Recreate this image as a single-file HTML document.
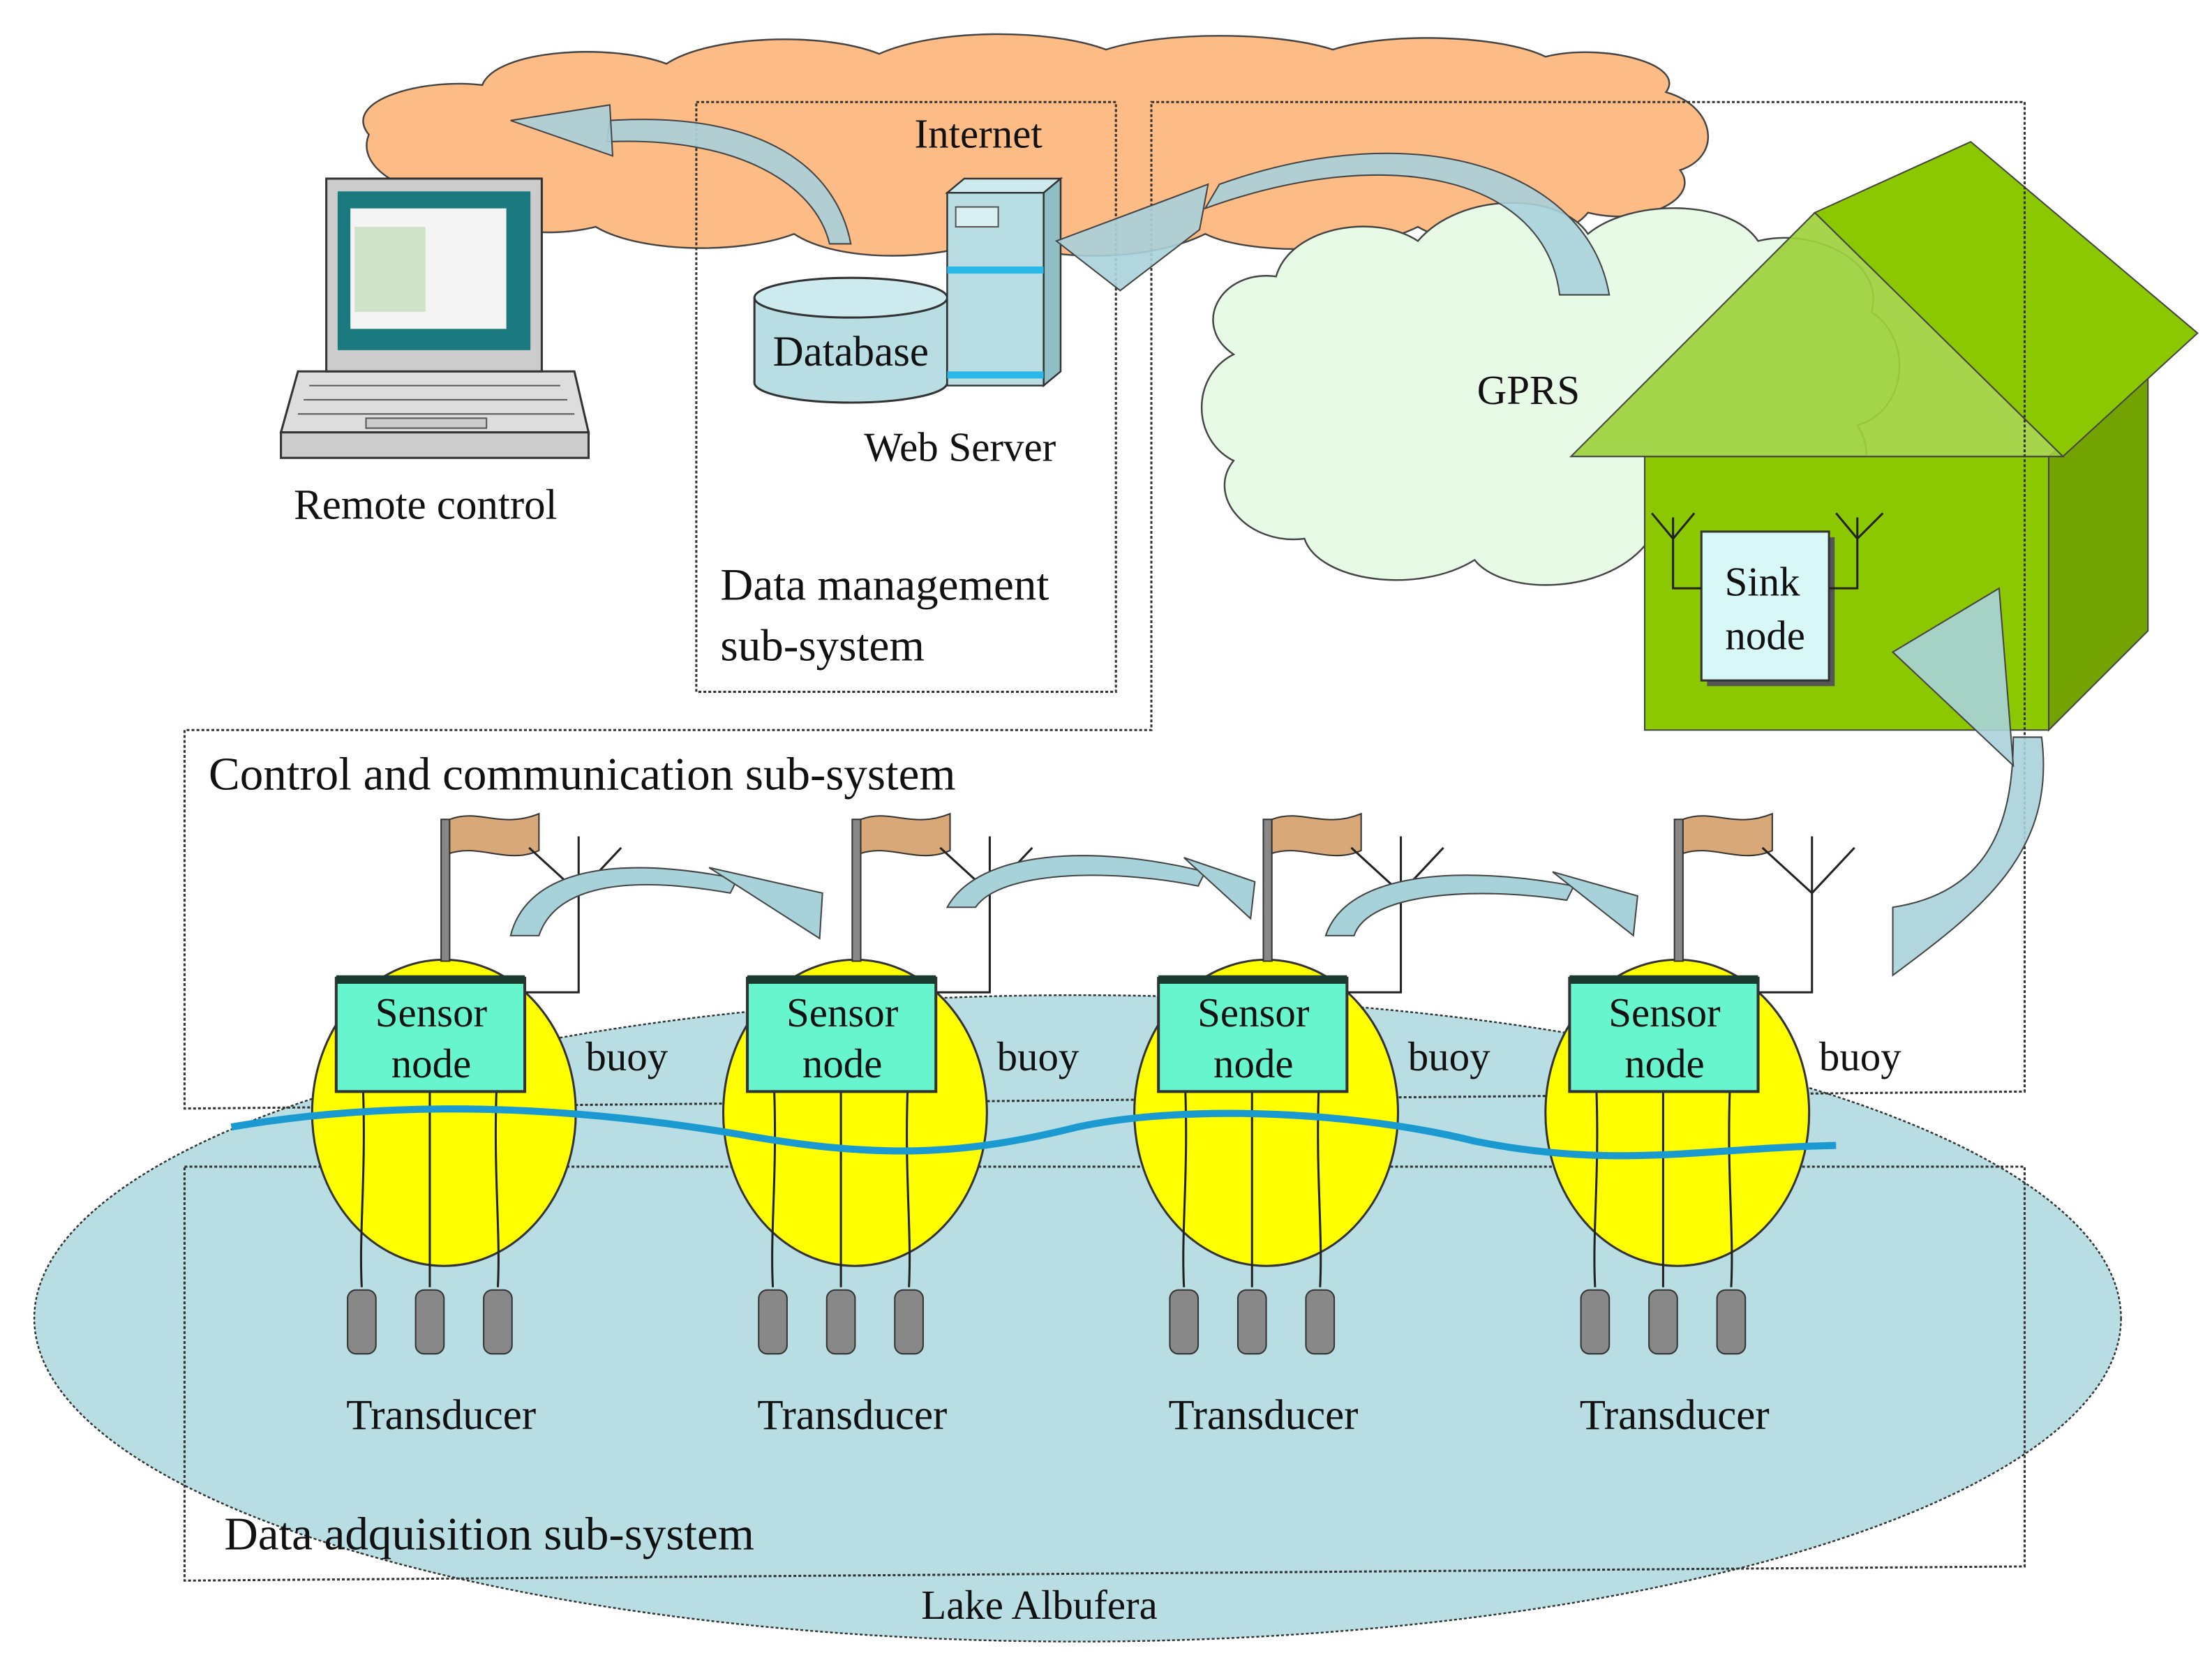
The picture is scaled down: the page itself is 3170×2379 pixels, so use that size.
<!DOCTYPE html>
<html><head><meta charset="utf-8"><style>
html,body{margin:0;padding:0;background:#fff;}
svg{display:block;}
text{font-family:"Liberation Serif",serif;fill:#111;}
</style></head><body>
<svg width="3170" height="2379" viewBox="0 0 1560 1171" xmlns="http://www.w3.org/2000/svg">
<ellipse cx="760" cy="930" rx="736" ry="228" fill="#B8DEE3" stroke="#333" stroke-width="1.2" stroke-dasharray="2,1.5"/>
<text x="733" y="1142" font-size="29" text-anchor="middle">Lake Albufera</text>

<g fill="#FDBB86" stroke="#444" stroke-width="1.2">
<path d="M260,95 C240,70 300,55 340,60 C350,35 430,30 470,45 C500,25 580,22 620,38 C660,20 740,20 780,35 C820,22 900,22 940,35 C980,22 1060,25 1090,40 C1130,30 1190,45 1175,65 C1210,75 1215,110 1185,120 C1200,140 1160,160 1120,150 C1100,175 1030,178 1000,160 C960,180 880,180 850,165 C810,185 740,185 700,168 C660,185 590,185 560,165 C520,180 450,178 420,160 C380,170 330,160 330,140 C290,140 250,120 260,95 Z"/>
</g>
<text x="690" y="104" font-size="29" text-anchor="middle">Internet</text>

<path d="M870,250 C840,230 860,190 900,195 C910,160 970,150 1000,170 C1030,135 1100,135 1120,165 C1150,140 1220,140 1240,170 C1280,160 1330,185 1320,220 C1350,240 1345,290 1310,300 C1330,330 1300,370 1260,360 C1250,400 1190,410 1160,385 C1130,420 1060,420 1040,395 C1000,420 930,410 920,380 C880,385 850,350 870,325 C840,310 840,265 870,250 Z" fill="#E6FAE6" stroke="#444" stroke-width="1.2"/>

<g stroke="#444" stroke-width="1">
<polygon points="1445,322 1515,262 1515,445 1445,515" fill="#73A300"/>
<rect x="1160" y="322" width="285" height="193" fill="#8BC800"/>
<polygon points="1280,150 1390,100 1550,235 1455,322" fill="#8BC800"/>
<polygon points="1108,322 1280,150 1455,322" fill="#9ED03C" fill-opacity="0.92"/>
</g>
<text x="1078" y="285" font-size="29" text-anchor="middle">GPRS</text>
<rect x="1204" y="379" width="90" height="105" fill="#555"/>
<rect x="1200" y="375" width="90" height="105" fill="#D8F8F8" stroke="#333" stroke-width="1.5"/>
<text x="1243" y="420" font-size="29" text-anchor="middle">Sink</text>
<text x="1245" y="458" font-size="29" text-anchor="middle">node</text>
<g stroke="#222" stroke-width="1.5" fill="none">
<path d="M1200,415 H1180 V365 M1180,380 L1165,362 M1180,380 L1195,362"/>
<path d="M1290,415 H1310 V365 M1310,380 L1295,362 M1310,380 L1328,362"/>
</g>

<g fill="none" stroke="#333" stroke-width="1.5" stroke-dasharray="2,1.5">
<rect x="491" y="72" width="296" height="416"/>
<path d="M812,72 H1428 V770 L130,782 V515 H812 Z"/>
<path d="M130,823 L1428,823 L1428,1105 L130,1115 Z"/>
</g>
<text x="508" y="423" font-size="32">Data management</text>
<text x="508" y="466" font-size="32">sub-system</text>
<text x="147" y="557" font-size="33">Control and communication sub-system</text>
<text x="158" y="1093" font-size="33">Data adquisition sub-system</text>

<polygon points="198,305 415,305 405,262 210,262" fill="#ddd" stroke="#333" stroke-width="1.5"/>
<rect x="198" y="305" width="217" height="18" fill="#ccc" stroke="#333" stroke-width="1.5"/>
<g stroke="#555" stroke-width="1"><line x1="218" y1="272" x2="395" y2="272"/><line x1="214" y1="282" x2="400" y2="282"/><line x1="210" y1="292" x2="405" y2="292"/></g>
<rect x="258" y="295" width="85" height="7" fill="#ccc" stroke="#555"/>
<rect x="230" y="126" width="152" height="136" fill="#ccc" stroke="#333" stroke-width="1.5"/>
<rect x="238" y="135" width="136" height="112" fill="#1A7A80"/>
<rect x="247" y="147" width="110" height="85" fill="#F4F4F4"/>
<rect x="250" y="160" width="50" height="60" fill="#CFE3C8"/>
<text x="300" y="366" font-size="30" text-anchor="middle">Remote control</text>

<path d="M532,210 V270 A68,14 0 0 0 668,270 V210" fill="#B8DEE3" stroke="#333" stroke-width="1.5"/>
<ellipse cx="600" cy="210" rx="68" ry="14" fill="#CDEBEE" stroke="#333" stroke-width="1.5"/>
<text x="600" y="258" font-size="30" text-anchor="middle">Database</text>
<polygon points="668,136 680,126 748,126 736,136" fill="#CDEBEE" stroke="#333" stroke-width="1.2"/>
<polygon points="736,136 748,126 748,262 736,272" fill="#8FBFC4" stroke="#333" stroke-width="1.2"/>
<rect x="668" y="136" width="68" height="136" fill="#B8DEE3" stroke="#333" stroke-width="1.2"/>
<rect x="674" y="146" width="30" height="14" fill="#D8F0F2" stroke="#555"/>
<rect x="668" y="188" width="68" height="5" fill="#29B8E8"/>
<rect x="668" y="262" width="68" height="5" fill="#29B8E8"/>
<text x="677" y="325" font-size="29" text-anchor="middle">Web Server</text>

<g fill="#A8D2DA" stroke="#444" stroke-width="1" fill-opacity="0.9">
<path d="M600,172 C590,120 540,78 430,85 L428,100 C520,96 575,130 585,172 Z"/>
<polygon points="360,85 430,74 432,110"/>
<path d="M1135,208 C1120,120 1000,80 860,130 L850,147 C980,100 1090,125 1100,208 Z"/>
<polygon points="745,170 852,130 846,162 790,205"/>
<path d="M1335,688 C1400,640 1450,600 1440,520 L1420,520 C1420,585 1400,630 1335,640 Z"/>
<polygon points="1335,460 1410,415 1420,540"/>
</g>

<defs>
<g id="buoy">
 <ellipse cx="0" cy="785" rx="93" ry="108" fill="#FFFF00" stroke="#333" stroke-width="1.5"/>
 <rect x="-2" y="578" width="6" height="100" fill="#888" stroke="#333"/>
 <path d="M4,578 C25,570 40,585 67,574 V600 C45,610 25,595 4,602 Z" fill="#D8A878" stroke="#333"/>
 <g stroke="#222" stroke-width="1.5" fill="none">
  <path d="M57,690 V700 H95 V590"/>
  <path d="M95,630 L60,598 M95,630 L125,598"/>
  <path d="M-57,770 C-55,830 -60,870 -58,908 M-10,770 V908 M37,770 C35,830 40,870 38,908"/>
 </g>
 <rect x="-76" y="690" width="133" height="80" fill="#66F5CC" stroke="#333" stroke-width="2"/>
 <rect x="-76" y="688" width="133" height="6" fill="#1a3a30"/>
 <text x="-9" y="724" font-size="29" text-anchor="middle">Sensor</text>
 <text x="-9" y="760" font-size="29" text-anchor="middle">node</text>
 <text x="100" y="755" font-size="29">buoy</text>
 <g fill="#888" stroke="#333">
  <rect x="-68" y="910" width="20" height="45" rx="6"/>
  <rect x="-20" y="910" width="20" height="45" rx="6"/>
  <rect x="28" y="910" width="20" height="45" rx="6"/>
 </g>
 <text x="-2" y="1008" font-size="30" text-anchor="middle">Transducer</text>
</g>
</defs>
<use href="#buoy" x="313"/>
<use href="#buoy" x="603"/>
<use href="#buoy" x="893"/>
<use href="#buoy" x="1183"/>

<g fill="#A8D2DA" stroke="#444" stroke-width="1">
<path d="M360,660 C370,620 420,600 520,620 L515,630 C430,615 390,630 380,660 Z"/>
<polygon points="500,612 580,630 578,662"/>
<path d="M668,640 C690,600 770,595 850,615 L845,625 C780,612 705,615 688,640 Z"/>
<polygon points="835,605 885,622 882,648"/>
<path d="M935,660 C950,615 1030,610 1110,625 L1105,635 C1040,625 965,630 955,660 Z"/>
<polygon points="1095,615 1155,632 1152,660"/>
</g>

<path d="M163,795 C280,775 400,780 520,800 C620,818 680,815 760,795 C840,778 960,785 1040,805 C1140,825 1200,810 1295,808" fill="none" stroke="#1A9AD0" stroke-width="5"/>
</svg>
</body></html>
